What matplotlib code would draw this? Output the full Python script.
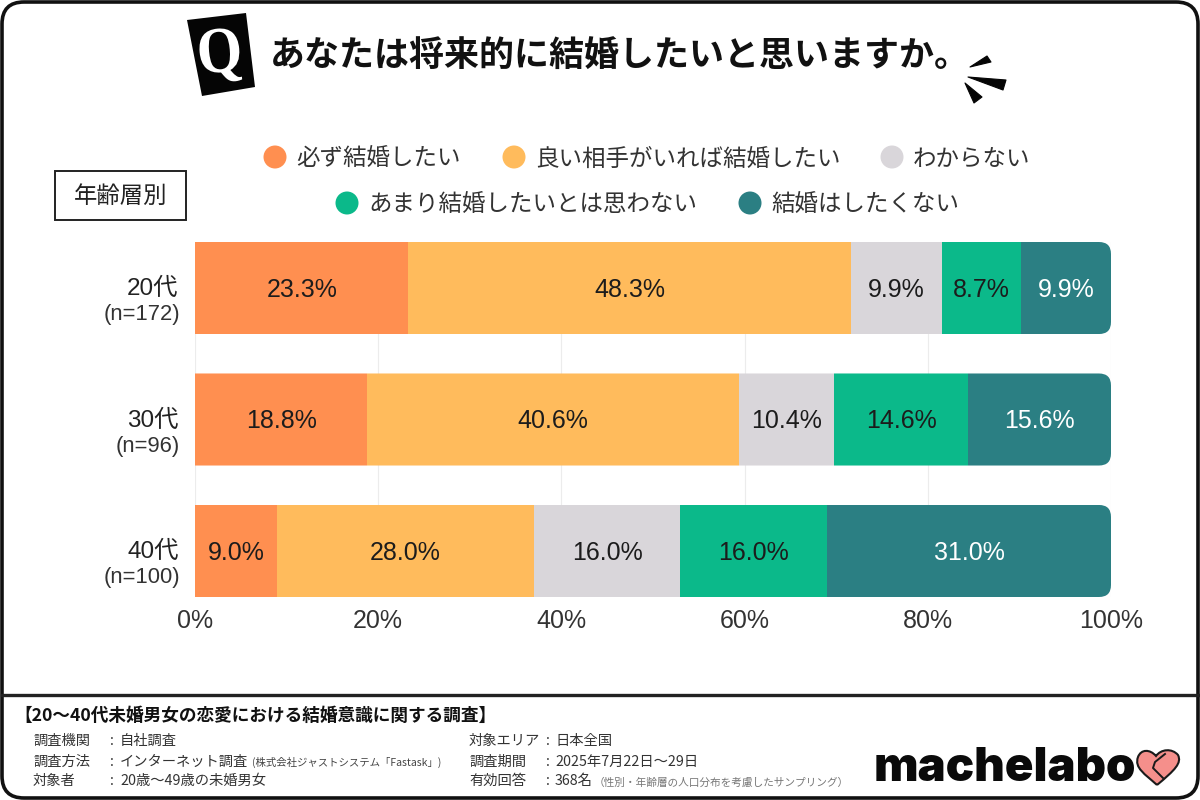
import matplotlib
matplotlib.use("Agg")
import matplotlib.pyplot as plt
from matplotlib.patches import FancyBboxPatch, Circle, Polygon, Rectangle, PathPatch
from matplotlib.path import Path
from matplotlib.textpath import TextPath
from matplotlib.font_manager import FontProperties
from matplotlib.transforms import IdentityTransform, Affine2D

plt.rcParams['font.family'] = ['Noto Sans CJK JP', 'DejaVu Sans']
NUM_FONT = ['Liberation Sans', 'Noto Sans CJK JP']

ages = ["20代", "30代", "40代"]
sample_sizes = ["(n=172)", "(n=96)", "(n=100)"]
series_names = ["必ず結婚したい", "良い相手がいれば結婚したい", "わからない",
                "あまり結婚したいとは思わない", "結婚はしたくない"]
must_marry = [23.3, 18.8, 9.0]
if_good_partner = [48.3, 40.6, 28.0]
unsure = [9.9, 10.4, 16.0]
not_really = [8.7, 14.6, 16.0]
never = [9.9, 15.6, 31.0]
series_values = [must_marry, if_good_partner, unsure, not_really, never]
colors = ["#FF8F50", "#FFBB5C", "#D9D6DA", "#0BB98A", "#2B7F83"]
x_ticks = [0, 20, 40, 60, 80, 100]
title = "あなたは将来的に結婚したいと思いますか。"
footer_title = "【20～40代未婚男女の恋愛における結婚意識に関する調査】"

W, H = 1200, 800
fig = plt.figure(figsize=(12, 8), dpi=100, facecolor="white")

# chart axes span the bars exactly: x 195..1111 px, y 242..597 px
ax = fig.add_axes([195 / W, 1 - 597 / H, 916 / W, 355 / H])
bar_h = 0.70
ax.set_xlim(0, 100)
ax.set_ylim(2 + bar_h / 2, -bar_h / 2)
ax.set_axisbelow(True)
ax.grid(axis="x", color="#ECECEC", lw=0.8)
for s in ax.spines.values():
    s.set_visible(False)
ax.set_xticks(x_ticks, [f"{t}%" for t in x_ticks], fontsize=18, color="#333333", family=NUM_FONT)
ax.set_yticks([])
ax.tick_params(axis="x", length=0, pad=9)

fig.canvas.draw()
for r in range(len(ages)):
    left = 0.0
    (x0, y0) = ax.transData.transform((-5, r + bar_h / 2))
    (x1, y1) = ax.transData.transform((100, r - bar_h / 2))
    clip = FancyBboxPatch((x0 + 12, y0 + 12), x1 - x0 - 24, y1 - y0 - 24,
                          boxstyle="round,pad=12,rounding_size=12",
                          transform=IdentityTransform(), fc="none", ec="none")
    for i, vals in enumerate(series_values):
        v = vals[r]
        b = ax.barh(r, v, left=left, height=bar_h, color=colors[i], lw=0, zorder=3)
        b[0].set_clip_path(clip)
        ax.text(left + v / 2, r + 0.015, f"{v:.1f}%", ha="center", va="center", family=NUM_FONT,
                fontsize=18, color="white" if i == 4 else "#1c1c1c", zorder=4)
        left += v
    ax.text(-1.8, r + 0.01, ages[r], ha="right", va="center", fontsize=17.5, color="#222222", family=NUM_FONT)
    ax.text(-1.6, r + 0.205, sample_sizes[r], ha="right", va="center", fontsize=15.8, color="#333333", family=NUM_FONT)

# overlay in pixel coordinates
ov = fig.add_axes([0, 0, 1, 1], zorder=10)
ov.set_xlim(0, W)
ov.set_ylim(H, 0)
ov.axis("off")
ov.patch.set_alpha(0)

# frame and footer separator
ov.add_patch(FancyBboxPatch((22, 22), W - 44, H - 44, boxstyle="round,pad=20,rounding_size=22",
                            fc="none", ec="#111111", lw=2.6))
ov.plot([2, 1198], [695, 695], color="#222222", lw=2.4)

# Q badge
ov.add_patch(Polygon([(187, 20), (246, 13), (255, 87), (202, 96)], fc="#050505", ec="none"))
q = TextPath((0, 0), "Q", size=10, prop=FontProperties(family="Liberation Serif", weight="bold"))
bb = q.get_extents()
tr = (Affine2D().translate(-bb.x0 - bb.width / 2, -bb.y0 - bb.height / 2)
      .scale(40 / bb.width, -54 / bb.height).rotate_deg(-5).translate(220, 55.5))
ov.add_patch(PathPatch(q, transform=tr + ov.transData, fc="white", ec="none"))
ov.text(270, 55, title, fontsize=25.2, weight="bold", ha="left", va="center", color="#111111")

# spark strokes
for pts in ([(970, 67), (987, 56), (991, 62)],
            [(968, 77), (1006, 80), (1003, 90)],
            [(965, 83), (982, 97), (974, 103)]):
    ov.add_patch(Polygon(pts, fc="#050505", ec="#050505", lw=0.8, joinstyle="round"))

# legend
legend_rows = [
    [(275, 296, 0), (514, 535, 1), (892, 913, 2)],
    [(347, 368, 3), (750, 771, 4)],
]
for row_y, row in zip((157, 203), legend_rows):
    for cx, tx, idx in row:
        ov.add_patch(Circle((cx, row_y), 11.5, fc=colors[idx], ec="none"))
        ov.text(tx, row_y + 2.5, series_names[idx], fontsize=16.9, ha="left", va="center", color="#333333")

# age box
ov.add_patch(Rectangle((55, 171), 131, 49, fc="white", ec="#222222", lw=1.4))
ov.text(120.5, 196, "年齢層別", fontsize=16.8, ha="center", va="center", color="#222222")

# footer
ov.text(14, 716, footer_title, fontsize=12.7, weight="bold", ha="left", va="center", color="#111111")
left_rows = [("調査機関", "自社調査", None), ("調査方法", "インターネット調査", "(株式会社ジャストシステム「Fastask」)"),
             ("対象者", "20歳～49歳の未婚男女", None)]
right_rows = [("対象エリア", "日本全国", None), ("調査期間", "2025年7月22日～29日", None),
              ("有効回答", "368名", "（性別・年齢層の人口分布を考慮したサンプリング）")]
FS = 10.3
for y, (a, b, c) in zip((741, 761.5, 781), left_rows):
    ov.text(33, y, a, fontsize=FS, ha="left", va="center", color="#333333")
    ov.text(110, y, ":", fontsize=FS, ha="left", va="center", color="#333333")
    ov.text(120, y, b, fontsize=FS, ha="left", va="center", color="#333333")
    if c:
        ov.text(252, y + 1, c, fontsize=7.5, ha="left", va="center", color="#444444")
for y, (a, b, c) in zip((741, 761.5, 781), right_rows):
    ov.text(469, y, a, fontsize=FS, ha="left", va="center", color="#333333")
    ov.text(546, y, ":", fontsize=FS, ha="left", va="center", color="#333333")
    ov.text(555, y, b, fontsize=FS, ha="left", va="center", color="#333333")
    if c:
        ov.text(594, y + 2, c, fontsize=7.7, ha="left", va="center", color="#777777")

# logo
ov.text(874, 769, "machelabo", fontsize=34, family="Inter", weight="black", ha="left", va="center", color="#0a0a0a")
heart = Path([(1157, 785), (1145, 774), (1134, 768), (1138, 757), (1141, 749), (1150, 749), (1156, 756),
              (1161, 749), (1172, 748), (1178, 755), (1182, 763), (1175, 770), (1157, 785)],
             [Path.MOVETO, Path.CURVE4, Path.CURVE4, Path.CURVE4, Path.CURVE4, Path.CURVE4, Path.CURVE4,
              Path.CURVE4, Path.CURVE4, Path.CURVE4, Path.CURVE4, Path.CURVE4, Path.CURVE4])
ov.add_patch(PathPatch(heart, fc="#F58F8B", ec="#1a1a1a", lw=1.5))
ov.plot([1163, 1153, 1155, 1165], [778, 768, 762, 754], color="#1a1a1a", lw=1.4)

fig.savefig("out.png", dpi=100)
